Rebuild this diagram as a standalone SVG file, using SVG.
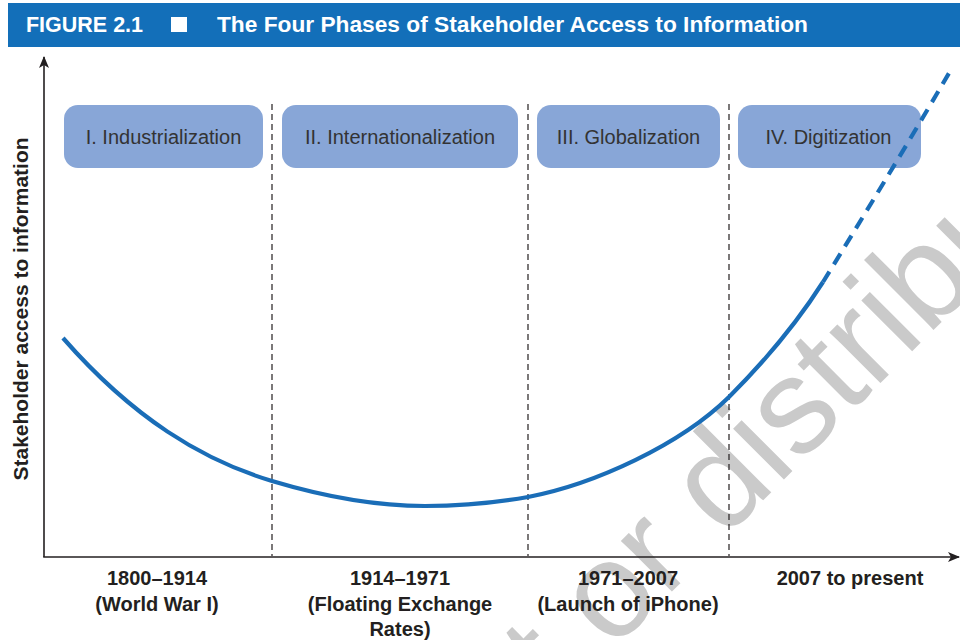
<svg xmlns="http://www.w3.org/2000/svg" width="960" height="640" viewBox="0 0 960 640">
  <defs>
    <style>
      .hdr { font-family: "Liberation Sans", Arial, sans-serif; font-weight: bold; font-size: 22.5px; fill: #ffffff; }
      .box { fill: #88a6d7; }
      .boxtxt { font-family: "Liberation Sans", Arial, sans-serif; font-size: 20px; fill: #333333; text-anchor: middle; }
      .lbl { font-family: "Liberation Sans", Arial, sans-serif; font-weight: bold; font-size: 20px; fill: #231f20; text-anchor: middle; }
      .axis { stroke: #231f20; stroke-width: 1.6; fill: none; }
      .sep { stroke: #231f20; stroke-width: 1.2; stroke-dasharray: 6 4; fill: none; }
      .curve { stroke: #1a6db7; stroke-width: 4.2; fill: none; }
      .wm { font-family: "Liberation Sans", Arial, sans-serif; font-size: 136px; fill: #cacaca; }
    </style>
    <marker id="arr" viewBox="0 0 12 10" refX="11" refY="5" markerWidth="12" markerHeight="10" markerUnits="userSpaceOnUse" orient="auto">
      <path d="M0,0 L12,5 L0,10 L3,5 Z" fill="#231f20"/>
    </marker>
  </defs>

  <rect x="0" y="0" width="960" height="640" fill="#ffffff"/>

  <!-- watermark -->
  <g transform="translate(614,600) rotate(-45)">
    <text class="wm" x="-38" y="35" text-anchor="end">post, </text>
    <text class="wm" x="-38" y="35">or distribute</text>
  </g>

  <!-- header -->
  <g id="header">
    <rect x="8" y="3" width="952" height="44" fill="#136fb9"/>
    <text class="hdr" x="26" y="32" textLength="117" lengthAdjust="spacingAndGlyphs">FIGURE 2.1</text>
    <rect x="171" y="17" width="16" height="15" fill="#ffffff"/>
    <text class="hdr" x="217" y="32" textLength="591" lengthAdjust="spacingAndGlyphs">The Four Phases of Stakeholder Access to Information</text>
  </g>

  <!-- axes -->
  <g id="axes">
    <line class="axis" x1="44" y1="557" x2="44" y2="57" marker-end="url(#arr)"/>
    <line class="axis" x1="43.2" y1="557" x2="959" y2="557" marker-end="url(#arr)"/>
    <text class="lbl" transform="translate(28,309) rotate(-90)" style="font-size:21px">Stakeholder access to information</text>
  </g>

  <!-- separators -->
  <g id="separators">
    <line class="sep" x1="272" y1="104" x2="272" y2="556"/>
    <line class="sep" x1="528" y1="104" x2="528" y2="556"/>
    <line class="sep" x1="729" y1="104" x2="729" y2="556"/>
  </g>

  <!-- phase nodes -->
  <g id="phase1">
    <rect class="box" x="64" y="105" width="199" height="63" rx="14"/>
    <text class="boxtxt" x="163.5" y="144">I. Industrialization</text>
  </g>
  <g id="phase2">
    <rect class="box" x="282" y="105" width="236" height="63" rx="14"/>
    <text class="boxtxt" x="400" y="144">II. Internationalization</text>
  </g>
  <g id="phase3">
    <rect class="box" x="537" y="105" width="183" height="63" rx="14"/>
    <text class="boxtxt" x="628.5" y="144">III. Globalization</text>
  </g>
  <g id="phase4">
    <rect class="box" x="738" y="105" width="183" height="63" rx="14"/>
    <text class="boxtxt" x="828.5" y="144">IV. Digitization</text>
  </g>

  <!-- curve -->
  <g id="connectors">
    <path class="curve" d="M63,338 C133,418 202,460 272,481 C322,496 375,506 425,506 C460,506 495,503 528,497 C595,484 680,445 729,397 C760,366 795,326 823,282"/>
    <path class="curve" stroke-dasharray="12.5 8.5" d="M823,282 C860,222 910,140 952,68"/>
  </g>

  <!-- period labels -->
  <g id="period1">
    <text class="lbl" x="157" y="585">1800–1914</text>
    <text class="lbl" x="157" y="611">(World War I)</text>
  </g>
  <g id="period2">
    <text class="lbl" x="400" y="585">1914–1971</text>
    <text class="lbl" x="400" y="611">(Floating Exchange</text>
    <text class="lbl" x="400" y="636">Rates)</text>
  </g>
  <g id="period3">
    <text class="lbl" x="628" y="585">1971–2007</text>
    <text class="lbl" x="628" y="611">(Launch of iPhone)</text>
  </g>
  <g id="period4">
    <text class="lbl" x="850" y="585">2007 to present</text>
  </g>
</svg>
